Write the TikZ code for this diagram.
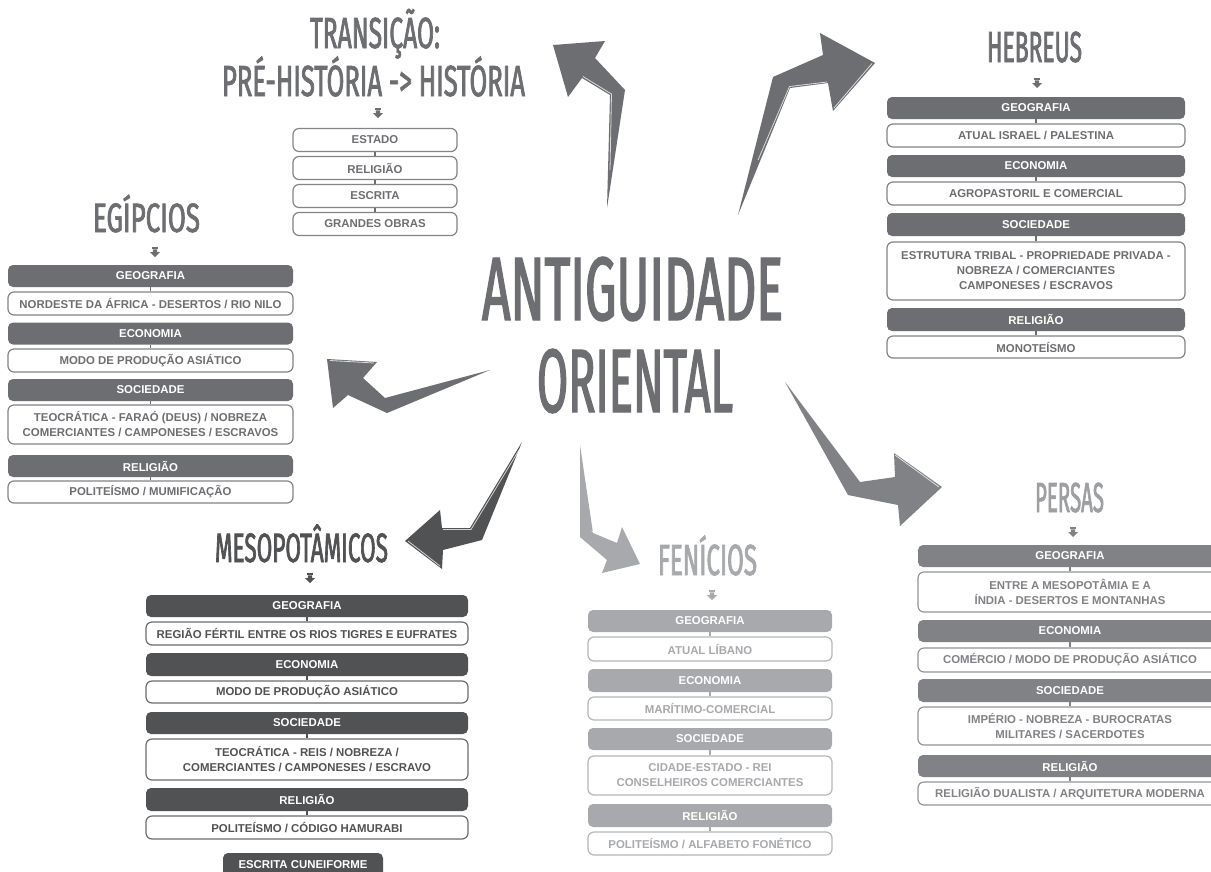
\documentclass[tikz,border=0pt]{standalone}
\usepackage{fontspec}
\usepackage{graphicx}
\setmainfont{Liberation Sans}
% condensed, slightly emboldened lettering for the titles
\newfontfamily\handbig{Fira Sans}[FakeStretch=0.55, FakeBold=1.5]
\newfontfamily\handsmall{Fira Sans}[FakeStretch=0.55, FakeBold=1.6]

\definecolor{egy}{HTML}{6D6E71}
\definecolor{meso}{HTML}{515254}
\definecolor{feni}{HTML}{A7A9AC}
\definecolor{pers}{HTML}{808285}
\definecolor{persT}{HTML}{9D9FA2}

% title lettering: width forced to #1, font size #2
\newcommand{\bigtitle}[3]{\resizebox{#1pt}{\height}{\handbig\fontsize{#2}{#2}\selectfont #3}}
\newcommand{\handtitle}[3]{\resizebox{#1pt}{\height}{\handsmall\fontsize{#2}{#2}\selectfont #3}}

\tikzset{
  hdr/.style={fill=#1, rounded corners=5pt, inner sep=0pt, text=white,
    font=\bfseries\fontsize{11.4}{13}\selectfont},
  bdy/.style={draw=#1!85, line width=1.2pt, fill=white, rounded corners=6pt,
    inner sep=0pt, align=center, text=#1,
    font=\bfseries\fontsize{11.4}{15}\selectfont},
  link/.style={draw=#1, line width=1.8pt},
  ttl/.style={anchor=base, inner sep=0pt, text=#1},
  shine/.style={draw=white, draw opacity=0.75, line width=0.8pt, line join=round},
  dnarrow/.pic={
    \fill (-3,-5) rectangle (3,-3.4);
    \fill (-2.2,-2.6) -- (2.2,-2.6) -- (2.2,0) -- (5,0) -- (0,5) -- (-5,0) -- (-2.2,0) -- cycle;
  },
}

\begin{document}
\begin{tikzpicture}[x=1pt, y=-1pt]
\clip (0,0) rectangle (1211,871);
\fill[white] (0,0) rectangle (1211,871);

% ---------- central title ----------
\node[ttl=egy] (mainA) at (632.5,320) {\bigtitle{301}{90}{ANTIGUIDADE}};
\node[ttl=egy] (mainB) at (635,412) {\bigtitle{196}{90}{ORIENTAL}};

% ---------- big pointers ----------
\fill[egy]  (607,208) -- (625,90) -- (595,58) -- (605,41) -- (553,45) -- (568,97) -- (582,78) -- (610,95) -- cycle;
\path[shine] (583,76.5) -- (611.5,94) -- (610,170);
\fill[egy]  (738,215) -- (773,77) -- (823,55) -- (820,33) -- (875,63) -- (833,111) -- (828,83) -- (790,88) -- cycle;
\path[shine] (758,160) -- (789.5,86.5) -- (827,82) (872,63.5) -- (834,108);
\fill[egy]  (490,370) -- (385,398) -- (363,378) -- (377,362) -- (327,359) -- (333,408) -- (348,395) -- (387,413) -- cycle;
\path[shine] (330,360.5) -- (374,363);
\fill[meso] (522,442) -- (470,528) -- (442,528) -- (440,510) -- (405,541) -- (442,569) -- (443,550) -- (482,540) -- cycle;
\path[shine] (443,529.5) -- (471,529.5) -- (519,450) (408,541) -- (440,566);
\fill[feni] (580,445) -- (593,533) -- (617,543) -- (622,527) -- (640,564) -- (602,573) -- (607,560) -- (580,537) -- cycle;
\path[shine] (591.5,531) -- (616,541.5);
\fill[pers] (785,382) -- (860,482) -- (895,477) -- (894,453) -- (942,487) -- (900,526) -- (898,505) -- (848,495) -- cycle;
\path[shine] (859.5,480.5) -- (894,475.5) (895,455) -- (939,487);

% ---------- transição ----------
\node[ttl=egy] (trT1) at (375,48) {\handtitle{130}{43.5}{TRANSIÇÃO:}};
\node[ttl=egy] (trT2) at (373.5,96) {\handtitle{303}{43.5}{PRÉ-HISTÓRIA -> HISTÓRIA}};
\pic[fill=egy] at (378,113) {dnarrow};
\begin{scope}[every node/.style={bdy=egy, minimum width=164pt, minimum height=23pt}]
\node (tr1) at (375,140) {ESTADO};
\node (tr2) at (375,168) {RELIGIÃO};
\node (tr3) at (375,196) {ESCRITA};
\node (tr4) at (375,224) {GRANDES OBRAS};
\end{scope}
\draw[link=egy] (tr1.south) -- (tr2.north);
\draw[link=egy] (tr2.south) -- (tr3.north);
\draw[link=egy] (tr3.south) -- (tr4.north);

% ---------- egípcios ----------
\node[ttl=egy] (egT) at (146.5,232) {\handtitle{107}{41}{EGÍPCIOS}};
\pic[fill=egy] at (155,252) {dnarrow};
\begin{scope}[every node/.style={minimum width=285pt}]
\node[hdr=egy, minimum height=22pt] (eg1) at (150.5,276) {GEOGRAFIA};
\node[bdy=egy, minimum height=23pt] (eg2) at (150.5,303.5) {NORDESTE DA ÁFRICA - DESERTOS / RIO NILO};
\node[hdr=egy, minimum height=22pt] (eg3) at (150.5,333.5) {ECONOMIA};
\node[bdy=egy, minimum height=23pt] (eg4) at (150.5,360.5) {MODO DE PRODUÇÃO ASIÁTICO};
\node[hdr=egy, minimum height=22pt] (eg5) at (150.5,390) {SOCIEDADE};
\node[bdy=egy, minimum height=39pt] (eg6) at (150.5,424.5) {TEOCRÁTICA - FARAÓ (DEUS) / NOBREZA\\COMERCIANTES / CAMPONESES / ESCRAVOS};
\node[hdr=egy, minimum height=22pt] (eg7) at (150.5,466) {RELIGIÃO};
\node[bdy=egy, minimum height=22pt] (eg8) at (150.5,492) {POLITEÍSMO / MUMIFICAÇÃO};
\end{scope}
\foreach \a/\b in {eg1/eg2, eg3/eg4, eg5/eg6, eg7/eg8} \draw[link=egy] (\a.south) -- (\b.north);

% ---------- hebreus ----------
\node[ttl=egy] (heT) at (1034.5,62) {\handtitle{95}{43.5}{HEBREUS}};
\pic[fill=egy] at (1037,83) {dnarrow};
\begin{scope}[every node/.style={minimum width=298pt}]
\node[hdr=egy, minimum height=22pt] (he1) at (1036,108) {GEOGRAFIA};
\node[bdy=egy, minimum height=23pt] (he2) at (1036,135.5) {ATUAL ISRAEL / PALESTINA};
\node[hdr=egy, minimum height=22pt] (he3) at (1036,166) {ECONOMIA};
\node[bdy=egy, minimum height=23pt] (he4) at (1036,193.5) {AGROPASTORIL E COMERCIAL};
\node[hdr=egy, minimum height=23pt] (he5) at (1036,224.5) {SOCIEDADE};
\node[bdy=egy, minimum height=58pt] (he6) at (1036,271) {ESTRUTURA TRIBAL - PROPRIEDADE PRIVADA -\\NOBREZA / COMERCIANTES\\CAMPONESES / ESCRAVOS};
\node[hdr=egy, minimum height=23pt] (he7) at (1036,319.5) {RELIGIÃO};
\node[bdy=egy, minimum height=22pt] (he8) at (1036,347) {MONOTEÍSMO};
\end{scope}
\foreach \a/\b in {he1/he2, he3/he4, he5/he6, he7/he8} \draw[link=egy] (\a.south) -- (\b.north);

% ---------- mesopotâmicos ----------
\node[ttl=meso] (meT) at (301.5,562) {\handtitle{173}{41}{MESOPOTÂMICOS}};
\pic[fill=meso] at (310,578) {dnarrow};
\begin{scope}[every node/.style={minimum width=322pt}]
\node[hdr=meso, minimum height=22pt] (me1) at (307,606) {GEOGRAFIA};
\node[bdy=meso, minimum height=23pt] (me2) at (307,633.5) {REGIÃO FÉRTIL ENTRE OS RIOS TIGRES E EUFRATES};
\node[hdr=meso, minimum height=23pt] (me3) at (307,664.5) {ECONOMIA};
\node[bdy=meso, minimum height=22pt] (me4) at (307,692) {MODO DE PRODUÇÃO ASIÁTICO};
\node[hdr=meso, minimum height=22pt] (me5) at (307,723) {SOCIEDADE};
\node[bdy=meso, minimum height=41pt] (me6) at (307,759.5) {TEOCRÁTICA - REIS / NOBREZA /\\COMERCIANTES / CAMPONESES / ESCRAVO};
\node[hdr=meso, minimum height=23pt] (me7) at (307,799.5) {RELIGIÃO};
\node[bdy=meso, minimum height=23pt] (me8) at (307,827.5) {POLITEÍSMO / CÓDIGO HAMURABI};
\end{scope}
\foreach \a/\b in {me1/me2, me3/me4, me5/me6, me7/me8} \draw[link=meso] (\a.south) -- (\b.north);
\node[hdr=meso, minimum width=160pt, minimum height=24pt] (me9) at (303,865) {ESCRITA CUNEIFORME};

% ---------- fenícios ----------
\node[ttl=feni] (feT) at (707.5,575) {\handtitle{99}{43.5}{FENÍCIOS}};
\pic[fill=feni] at (712,595) {dnarrow};
\begin{scope}[every node/.style={minimum width=244pt}]
\node[hdr=feni, minimum height=22pt] (fe1) at (710,621) {GEOGRAFIA};
\node[bdy=feni, minimum height=24pt] (fe2) at (710,649) {ATUAL LÍBANO};
\node[hdr=feni, minimum height=23pt] (fe3) at (710,680.5) {ECONOMIA};
\node[bdy=feni, minimum height=23pt] (fe4) at (710,708.5) {MARÍTIMO-COMERCIAL};
\node[hdr=feni, minimum height=22pt] (fe5) at (710,739) {SOCIEDADE};
\node[bdy=feni, minimum height=39pt] (fe6) at (710,775.5) {CIDADE-ESTADO - REI\\CONSELHEIROS COMERCIANTES};
\node[hdr=feni, minimum height=23pt] (fe7) at (710,815.5) {RELIGIÃO};
\node[bdy=feni, minimum height=23pt] (fe8) at (710,843.5) {POLITEÍSMO / ALFABETO FONÉTICO};
\end{scope}
\foreach \a/\b in {fe1/fe2, fe3/fe4, fe5/fe6, fe7/fe8} \draw[link=feni] (\a.south) -- (\b.north);

% ---------- persas ----------
\node[ttl=persT] (peT) at (1069.5,512) {\handtitle{69}{42}{PERSAS}};
\pic[fill=pers] at (1073,532) {dnarrow};
\begin{scope}[every node/.style={minimum width=304pt}]
\node[hdr=pers, minimum height=22pt] (pe1) at (1070,556) {GEOGRAFIA};
\node[bdy=pers, minimum height=40pt] (pe2) at (1070,592) {ENTRE A MESOPOTÂMIA E A\\ÍNDIA - DESERTOS E MONTANHAS};
\node[hdr=pers, minimum height=22pt] (pe3) at (1070,631) {ECONOMIA};
\node[bdy=pers, minimum height=24pt] (pe4) at (1070,660) {COMÉRCIO / MODO DE PRODUÇÃO ASIÁTICO};
\node[hdr=pers, minimum height=23pt] (pe5) at (1070,690.5) {SOCIEDADE};
\node[bdy=pers, minimum height=38pt] (pe6) at (1070,726) {IMPÉRIO - NOBREZA - BUROCRATAS\\MILITARES / SACERDOTES};
\node[hdr=pers, minimum height=22pt] (pe7) at (1070,766) {RELIGIÃO};
\node[bdy=pers, minimum height=23pt] (pe8) at (1070,793.5) {RELIGIÃO DUALISTA / ARQUITETURA MODERNA};
\end{scope}
\foreach \a/\b in {pe1/pe2, pe3/pe4, pe5/pe6, pe7/pe8} \draw[link=pers] (\a.south) -- (\b.north);
\end{tikzpicture}
\end{document}
